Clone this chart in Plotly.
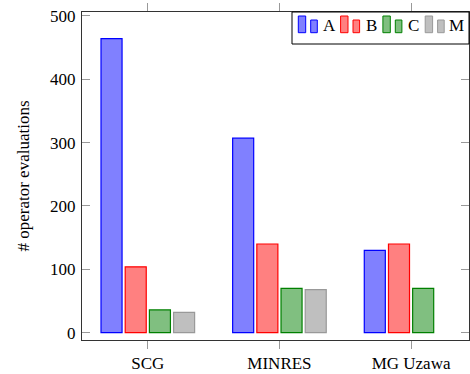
import plotly.graph_objects as go

categories = ["SCG", "MINRES", "MG Uzawa"]
series_names = ["A", "B", "C", "M"]
values_A = [464, 307, 130]
values_B = [104, 140, 140]
values_C = [36, 70, 70]
values_M = [32, 68, None]
y_ticks = [0, 100, 200, 300, 400, 500]

fills = ["#8080ff", "#ff8080", "#80bf80", "#bfbfbf"]
lines = ["#0000ff", "#ff0000", "#008000", "#999999"]

W, H = 470, 374
ML, MR, MT, MB = 82, 1, 12, 34
PW, PH = W - ML - MR, H - MT - MB

def px(x):
    return (x - ML) / PW

def py(y):
    return 1 - (y - MT) / PH

fig = go.Figure()
for name, vals, fc, lc in zip(series_names, [values_A, values_B, values_C, values_M], fills, lines):
    fig.add_trace(go.Bar(
        x=categories, y=vals, name=name,
        marker=dict(color=fc, line=dict(color=lc, width=1.2)),
        showlegend=False,
    ))

font_family = "Liberation Serif"

# custom legend (pgfplots style: two small bars per entry)
shapes = [dict(type="rect", xref="paper", yref="paper",
               x0=px(292), x1=px(469), y0=py(44), y1=py(12),
               line=dict(color="black", width=1), fillcolor="white", layer="above")]
annotations = []
for i, (name, fc, lc) in enumerate(zip(series_names, fills, lines)):
    b = 298.3 + 42.3 * i
    shapes.append(dict(type="rect", xref="paper", yref="paper",
                       x0=px(b), x1=px(b + 7.4), y0=py(32.7), y1=py(16),
                       line=dict(color=lc, width=1), fillcolor=fc, layer="above"))
    shapes.append(dict(type="rect", xref="paper", yref="paper",
                       x0=px(b + 12.4), x1=px(b + 19), y0=py(32.7), y1=py(20),
                       line=dict(color=lc, width=1), fillcolor=fc, layer="above"))
    annotations.append(dict(xref="paper", yref="paper", x=px(b + 31), y=py(25),
                            text=name, showarrow=False, xanchor="center", yanchor="middle",
                            font=dict(family=font_family, size=17, color="black")))

fig.update_layout(
    width=W, height=H,
    margin=dict(l=ML, r=MR, t=MT, b=MB),
    paper_bgcolor="white", plot_bgcolor="white",
    barmode="group", bargap=0.265, bargroupgap=0.13,
    font=dict(family=font_family, size=16, color="black"),
    showlegend=False,
    shapes=shapes, annotations=annotations,
    xaxis=dict(
        range=[-0.5, 2.44], showgrid=False, zeroline=False,
        showline=True, linecolor="#333333", linewidth=1, mirror="ticks",
        ticks="outside", ticklen=8, tickcolor="#999999", tickwidth=1,
        tickfont=dict(family=font_family, size=17),
    ),
    yaxis=dict(
        range=[-11.5, 506], showgrid=False, zeroline=False,
        showline=True, linecolor="#333333", linewidth=1, mirror="ticks",
        ticks="inside", ticklen=8, tickcolor="#999999", tickwidth=1,
        tickvals=y_ticks, ticktext=[str(v) for v in y_ticks],
        tickfont=dict(family=font_family, size=17),
        ticklabelstandoff=2,
        title=dict(text="# operator evaluations", font=dict(family=font_family, size=17), standoff=16),
    ),
)

fig.write_html("out.html", config={"displayModeBar": False},
               post_script="document.body.style.margin='0';document.body.style.padding='0';")
